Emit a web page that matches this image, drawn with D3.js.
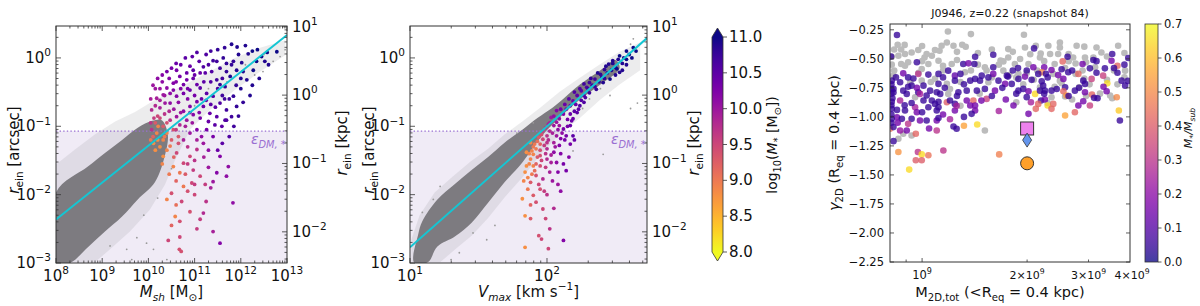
<!DOCTYPE html>
<html>
<head>
<meta charset="utf-8">
<script src="https://cdn.jsdelivr.net/npm/d3@7.9.0/dist/d3.min.js"></script>
<style>
  body { margin: 0; background: #fff; }
  svg { display: block; font-family: "DejaVu Sans", sans-serif; }
</style>
</head>
<body>
<svg id="fig" width="1200" height="306"></svg>
<script>
// ---- shared values (panels 1 & 2)
const kpcPerArcsec = 3.5;
const softeningArcsec = 0.085;
const mstarDomain = [8, 11];
const mstarTicks = [8.0, 8.5, 9.0, 9.5, 10.0, 10.5, 11.0];

// ---- panel 1: log10 Msh, log10 r_ein (arcsec)
const mshCore = [[8.00,-1.97],[8.69,-1.59],[9.06,-1.39],[9.43,-1.20],[9.77,-1.02],[10.08,-0.92],[10.29,-0.91],[10.42,-1.12],[10.36,-1.42],[10.14,-1.82],[9.77,-2.07],[9.43,-2.32],[9.06,-2.54],[8.69,-2.77],[8.30,-3.00],[8.00,-3.00]];
const mshHalo = [[8.00,-1.56],[8.41,-1.34],[8.84,-1.12],[9.28,-0.93],[9.71,-0.79],[10.03,-0.66],[10.36,-0.54],[10.79,-0.39],[11.33,-0.20],[11.87,0.00],[12.42,0.15],[12.96,0.26],[12.96,0.04],[12.42,-0.20],[11.87,-0.47],[11.33,-0.76],[10.90,-1.05],[10.58,-1.49],[10.36,-1.85],[10.03,-2.22],[9.60,-2.54],[9.17,-2.80],[8.84,-2.99],[8.00,-2.99]];
const mshStray = [[9.75,-2.63],[9.96,-2.71],[9.17,-2.75],[9.53,-2.80],[10.40,-2.95],[10.11,-2.80],[9.64,-2.95],[9.90,-2.30],[10.20,-2.05],[10.50,-1.62],[12.48,-0.20],[12.96,0.12],[12.50,0.05],[12.70,-0.05],[12.10,-0.10],[11.70,-0.35],[11.30,-0.45],[11.00,-0.70],[12.30,-0.25],[12.85,0.02]];
const mshFit = [[8, -2.365], [13, 0.336]];
// log10 Msh, log10 r_ein, log10 M*
const mshSubs = [
[11.92,0.16,10.9],[12.16,0.06,10.9],[12.36,0.12,11.0],[12.57,0.08,11.0],[12.78,0.09,11.0],[12.52,-0.05,10.9],[11.84,-0.05,10.8],[12.02,-0.07,10.9],[11.69,-0.08,10.8],[11.48,-0.05,10.7],
[11.30,-0.10,10.6],[11.37,-0.20,10.6],[11.48,-0.32,10.7],[11.55,-0.39,10.8],[11.66,-0.42,10.8],[11.77,-0.27,10.9],[11.91,-0.18,10.9],[12.13,-0.32,10.9],[11.12,-0.22,10.4],[10.97,-0.30,10.4],
[10.83,-0.32,10.3],[10.68,-0.27,10.3],[10.54,-0.37,10.2],[10.40,-0.44,10.1],[10.32,-0.54,10.0],[10.18,-0.59,9.9],[10.07,-0.76,9.8],[10.25,-0.73,9.9],[10.47,-0.66,10.1],[10.61,-0.56,10.2],
[10.76,-0.52,10.3],[10.90,-0.47,10.4],[11.12,-0.44,10.5],[11.26,-0.52,10.5],[11.40,-0.56,10.6],[11.55,-0.66,10.6],[11.69,-0.76,10.7],[11.66,-0.91,10.6],[11.48,-0.86,10.5],[11.33,-0.81,10.4],
[11.19,-0.71,10.4],[11.05,-0.64,10.3],[10.90,-0.71,10.2],[10.76,-0.78,10.1],[10.61,-0.86,10.0],[10.47,-0.91,9.7],[10.32,-1.00,9.3],[10.18,-1.10,8.9],[10.11,-1.25,8.8],[10.32,-1.20,8.9],
[10.47,-1.29,9.0],[10.61,-1.39,9.5],[10.76,-1.20,9.9],[10.90,-1.10,10.0],[11.05,-1.05,10.2],[11.26,-1.05,10.3],[11.40,-1.15,10.3],[11.19,-1.25,10.0],[11.05,-1.34,9.7],[10.90,-1.44,9.5],
[10.76,-1.54,9.5],[10.68,-1.68,9.0],[10.54,-1.59,8.9],[10.32,-1.44,8.8],[10.97,-1.64,9.6],[11.12,-1.73,9.5],[11.23,-1.85,9.6],[10.94,-1.83,9.5],[10.76,-1.88,9.0],[10.50,-1.98,9.4],
[10.40,-2.07,8.9],[10.72,-2.10,9.5],[10.58,-2.32,8.9],[10.68,-2.39,9.4],[11.12,-2.36,9.6],[11.19,-2.27,9.8],[11.40,-2.54,9.9],[11.55,-2.71,10.2],[10.43,-2.67,9.5],[10.68,-2.62,9.5],
[10.67,-2.80,9.4],[10.71,-2.83,9.4],[11.48,-1.68,10.2],[11.69,-1.73,10.1],[11.55,-1.44,10.2],[11.73,-1.59,10.1],[10.54,-0.47,10.2],[10.36,-0.66,10.0],[10.83,-0.22,10.4],[10.97,-0.18,10.5],
[11.19,-0.13,10.6],[11.05,-0.39,10.4],[10.76,-0.39,10.3],[10.47,-0.52,10.1],[11.84,-0.56,10.8],[11.91,-0.71,10.8],[11.80,-0.86,10.7],[11.69,-0.91,10.6],[11.59,-1.00,10.5],[11.44,-0.98,10.5],
[11.30,-0.93,10.4],[11.12,-0.88,10.3],[10.97,-0.83,10.2],[10.83,-0.91,10.0],[10.68,-0.98,9.8],[10.54,-1.05,9.4],[10.40,-1.10,8.9],[10.21,-1.00,8.9],[10.07,-1.05,9.7],[12.27,-0.18,11.0],
[12.34,-0.05,11.0],[11.69,-0.20,10.8],[11.62,0.00,10.8],[11.40,-0.04,10.7],[11.23,-0.22,10.5],[10.61,-0.18,10.3],[10.25,-0.45,10.0],[10.12,-0.88,9.6],[10.20,-0.85,9.5],[10.35,-0.82,9.7],
[10.55,-0.75,10.0],[10.65,-0.65,10.1],[10.85,-0.60,10.2],[11.00,-0.55,10.3],[11.15,-0.60,10.4],[11.35,-0.68,10.5],[11.60,-0.55,10.7],[11.75,-0.60,10.7],[12.00,-0.45,10.9],[12.25,-0.40,10.9],
[12.05,-0.20,10.9],[11.95,0.05,10.9],[11.55,-0.15,10.7],[11.10,-0.05,10.5],[10.90,-0.12,10.4],[10.45,-0.30,10.2],[10.30,-0.35,10.1],[10.15,-0.45,10.0],[10.95,-0.95,10.0],[11.15,-1.15,10.1],
[10.85,-1.30,9.7],[10.65,-1.15,9.3],[10.40,-1.35,8.9],[10.25,-1.30,8.8],[10.55,-1.45,9.2],[10.80,-1.70,9.3],[11.00,-1.50,9.7],[11.30,-1.35,10.1],[11.35,-1.90,9.9],[11.00,-2.00,9.5],
[10.60,-2.15,9.1],[11.40,-1.81,10.0],[11.83,-2.12,10.1],
[10.30,-0.25,10.2],[10.40,-0.20,10.3],[10.50,-0.15,10.3],[10.60,-0.08,10.4],[10.70,-0.10,10.4],[10.80,0.00,10.5],[10.95,0.02,10.5],[11.05,0.08,10.6],[11.25,0.05,10.6],[11.35,0.10,10.7],
[11.50,0.12,10.8],[11.65,0.15,10.8],[11.80,0.20,10.9],[12.10,0.18,10.9],[12.25,0.10,11.0],[12.45,0.02,11.0],[12.60,-0.10,10.9],[12.40,-0.30,10.9],[12.20,-0.55,10.9],[12.05,-0.65,10.8],
[11.95,-0.85,10.8],[11.85,-1.00,10.7],[11.75,-1.15,10.6],[11.60,-1.25,10.5],[11.50,-1.35,10.4],[11.20,-0.35,10.5],[11.00,-0.25,10.4],[10.85,-0.45,10.3],[10.70,-0.45,10.2],[10.60,-0.35,10.2],
[10.35,-0.55,10.0],[10.25,-0.62,9.9],[10.15,-0.70,9.8],[10.05,-0.60,9.9],[10.10,-0.40,10.0],[10.20,-0.30,10.1],[10.45,-0.78,9.8],[10.70,-0.80,10.0],[10.90,-0.80,10.1],[11.10,-0.80,10.2],
[11.25,-0.62,10.4],[11.45,-0.72,10.5],[11.50,-0.45,10.6],[11.35,-0.35,10.6],[11.65,-0.60,10.7],[11.90,-0.40,10.8],[12.00,-0.30,10.9],[11.80,-0.10,10.8],[11.60,-0.30,10.7],[10.80,-1.00,9.9],
[10.60,-1.05,9.6],[10.40,-0.95,9.4],[10.25,-0.88,9.5],[10.15,-0.95,9.3],[10.05,-1.20,9.0],[10.15,-1.35,8.8],[10.30,-1.55,8.9],[10.45,-1.70,9.0],[10.60,-1.80,9.2],[10.85,-1.55,9.6],
[11.05,-1.20,9.9],[11.20,-1.45,9.9],[11.30,-1.60,10.0],[10.90,-2.25,9.4],[11.05,-2.50,9.6],[11.25,-2.10,9.7],[10.50,-2.45,9.2],[10.85,-1.95,9.4],[11.00,-1.85,9.6],[10.65,-1.25,9.4],
[10.50,-1.20,9.3],[10.35,-1.15,9.0],[10.20,-1.20,8.8],[10.10,-1.15,9.2],[10.05,-0.95,9.7]
];

// ---- panel 2: log10 Vmax, log10 r_ein (arcsec)
const vmaxCore = [[1.03,-2.99],[1.06,-2.58],[1.09,-2.39],[1.20,-2.07],[1.33,-1.84],[1.45,-1.64],[1.57,-1.45],[1.69,-1.24],[1.82,-1.05],[1.93,-0.88],[2.04,-0.73],[2.13,-0.58],[2.24,-0.39],[2.39,-0.18],[2.50,-0.03],[2.53,-0.15],[2.39,-0.39],[2.24,-0.61],[2.09,-0.88],[1.95,-1.17],[1.82,-1.53],[1.69,-1.82],[1.57,-2.12],[1.45,-2.41],[1.33,-2.61],[1.20,-2.76],[1.13,-2.99]];
const vmaxHalo = [[1.01,-2.66],[1.07,-2.30],[1.18,-1.97],[1.31,-1.74],[1.44,-1.52],[1.57,-1.33],[1.69,-1.12],[1.82,-0.93],[1.95,-0.73],[2.09,-0.50],[2.24,-0.29],[2.39,-0.09],[2.53,0.09],[2.68,0.23],[2.68,-0.18],[2.53,-0.39],[2.39,-0.61],[2.24,-0.88],[2.09,-1.12],[1.95,-1.42],[1.82,-1.75],[1.69,-2.04],[1.57,-2.34],[1.45,-2.60],[1.33,-2.80],[1.22,-2.99],[1.01,-2.99]];
const vmaxStray = [[2.19,-1.36],[2.41,-1.41],[1.56,-2.66],[1.36,-2.85],[1.46,-2.56],[1.22,-1.88],[1.17,-2.07],[1.09,-2.26],[1.78,-1.10],[1.90,-0.95],[2.63,0.28],[2.61,0.20],[2.39,-0.45],[2.46,-0.55],[2.61,-0.74],[2.66,-0.66],[2.31,-0.60],[2.26,-0.74],[1.62,-2.45],[1.30,-2.95]];
const vmaxFit = [[1, -2.77], [2.73, 0.29]];
const vmaxSubs = [
[2.63,0.15,11.0],[2.58,0.10,11.0],[2.56,0.00,10.9],[2.52,-0.02,10.9],[2.48,-0.04,10.9],[2.50,-0.14,10.9],[2.45,-0.09,10.9],[2.53,-0.21,10.9],[2.42,-0.17,10.8],[2.39,-0.24,10.8],
[2.35,-0.31,10.7],[2.31,-0.36,10.7],[2.29,-0.43,10.6],[2.25,-0.48,10.5],[2.22,-0.55,10.5],[2.19,-0.63,10.4],[2.17,-0.70,10.3],[2.14,-0.75,10.3],[2.12,-0.82,10.2],[2.09,-0.89,10.1],
[2.07,-0.94,10.0],[2.05,-0.99,10.0],[2.02,-1.07,9.8],[2.00,-1.14,9.7],[1.97,-1.19,9.5],[1.95,-1.26,9.2],[1.92,-1.33,9.0],[1.90,-1.41,8.9],[1.88,-1.48,8.9],[1.85,-1.58,8.8],
[1.84,-1.67,8.8],[1.83,-1.80,8.9],[1.82,-2.06,8.8],[1.84,-2.31,8.8],[1.84,-2.77,8.8],[1.88,-2.35,9.3],[1.92,-2.11,9.4],[1.97,-2.21,9.5],[1.99,-2.35,9.5],[2.02,-2.50,9.7],
[1.94,-2.60,9.4],[1.96,-2.65,9.5],[2.01,-2.79,9.5],[2.12,-2.67,10.2],[2.08,-1.67,10.2],[2.14,-1.65,10.3],[2.02,-1.67,9.9],[1.97,-1.77,9.8],[1.92,-1.72,9.4],[1.88,-1.82,9.3],
[1.95,-1.92,9.4],[1.90,-2.01,9.3],[1.86,-1.92,9.0],[2.07,-1.53,10.1],[2.05,-1.38,10.1],[2.00,-1.48,9.8],[1.95,-1.58,9.4],[2.09,-1.28,10.2],[2.05,-1.24,9.9],[2.00,-1.33,9.8],
[1.95,-1.43,9.4],[2.14,-1.14,10.3],[2.12,-1.04,10.3],[2.07,-1.14,10.0],[2.17,-0.99,10.4],[2.19,-0.89,10.4],[2.17,-0.82,10.4],[2.22,-0.80,10.5],[2.24,-0.70,10.6],[2.27,-0.65,10.6],
[2.09,-0.99,10.0],[2.00,-1.24,9.7],[1.90,-1.58,8.9],[1.85,-1.38,8.8],[1.88,-1.24,8.9],[2.17,-1.26,10.3],[2.19,-1.14,10.5],[2.31,-0.51,10.7],[2.36,-0.46,10.8],[2.41,-0.36,10.9],
[2.46,-0.31,11.0],[2.51,-0.16,11.0],[2.58,-0.02,11.0],[2.65,0.10,11.0],[2.07,-0.77,10.2],[2.03,-0.87,10.0],[2.01,-0.97,9.9],[1.97,-1.07,9.6],[1.94,-1.16,9.3],[1.91,-1.26,9.0],
[1.89,-1.36,8.9],[2.03,-1.53,9.9],[1.99,-1.60,9.6],[2.60,0.05,11.0],[2.55,-0.08,10.9],[2.47,-0.18,10.9],[2.40,-0.28,10.8],[2.33,-0.40,10.7],[2.27,-0.55,10.5],[2.21,-0.68,10.4],
[2.15,-0.90,10.3],[2.11,-1.10,10.1],[2.10,-1.40,10.2],[2.12,-1.55,10.3],[2.04,-1.80,10.0],[1.98,-1.95,9.6],[2.20,-1.20,10.4],
[2.62,0.00,11.0],[2.58,-0.10,10.9],[2.55,-0.18,10.9],[2.50,-0.25,10.9],[2.44,-0.22,10.8],[2.42,-0.30,10.8],[2.38,-0.35,10.8],[2.35,-0.42,10.7],[2.30,-0.45,10.7],[2.28,-0.58,10.6],
[2.25,-0.62,10.6],[2.23,-0.75,10.5],[2.20,-0.78,10.5],[2.18,-0.92,10.4],[2.15,-1.00,10.3],[2.13,-1.20,10.3],[2.10,-1.18,10.2],[2.08,-1.05,10.1],[2.06,-1.30,10.0],[2.04,-1.10,9.9],
[2.03,-1.42,9.9],[2.01,-1.20,9.8],[1.99,-1.40,9.7],[1.98,-1.28,9.6],[1.96,-1.50,9.5],[1.95,-1.35,9.4],[1.93,-1.45,9.3],[1.92,-1.55,9.2],[1.91,-1.65,9.1],[1.90,-1.30,9.0],
[1.89,-1.70,9.0],[1.87,-1.55,8.9],[1.86,-1.75,8.9],[1.87,-1.40,8.9],[1.93,-1.22,9.1],[1.96,-1.12,9.4],[1.99,-1.02,9.7],[2.02,-0.95,9.9],[2.05,-0.85,10.1],[2.10,-0.75,10.3],
[2.13,-0.68,10.4],[2.16,-0.60,10.5],[2.20,-0.50,10.6],[2.24,-0.45,10.6],[2.27,-0.38,10.7],[2.32,-0.30,10.8],[2.37,-0.22,10.9],[2.43,-0.12,10.9],[2.48,-0.08,10.9],[2.53,0.03,11.0],
[2.16,-1.45,10.2],[2.08,-1.85,10.0],[2.00,-2.00,9.7],[1.94,-1.85,9.5],[1.88,-2.15,9.2],[2.05,-2.20,9.8],[2.10,-1.95,10.1]
];

// ---- panel 3: log10 M2D,tot, gamma_2D, M*/Msub
const titleP3 = 'J0946, z=0.22 (snapshot 84)';
const gammaTicks = [-2.25, -2.0, -1.75, -1.5, -1.25, -1.0, -0.75, -0.5, -0.25];
const fracTicks = [0, 0.1, 0.2, 0.3, 0.4, 0.5, 0.6, 0.7];
const darkSubs = [
[9.074,-0.265],[9.140,-0.287],[8.930,-0.379],[9.071,-0.359],[9.090,-0.387],[9.115,-0.379],[9.125,-0.396],[9.056,-0.387],[9.037,-0.424],[8.989,-0.424],
[8.970,-0.445],[8.951,-0.459],[8.932,-0.473],[9.013,-0.459],[9.007,-0.488],[9.028,-0.473],[9.233,-0.522],[9.225,-0.515],[8.913,-0.482],[9.018,-0.544],
[9.047,-0.516],[9.085,-0.544],[9.180,-0.573],[8.999,-0.587],[8.951,-0.559],[8.940,-0.545],[8.918,-0.645],[9.123,-0.616],[9.185,-0.600],[9.233,-0.602],
[8.966,-0.702],[8.999,-0.688],[9.025,-0.700],[9.037,-0.673],[9.071,-0.716],[9.110,-0.700],[9.190,-0.702],[9.075,-0.802],[9.080,-0.760],[9.165,-0.800],
[8.980,-0.831],[9.110,-0.905],[8.946,-1.145],[8.970,-1.160],[9.180,-1.117],[8.932,-1.189],[9.292,-0.293],[9.247,-0.416],[9.295,-0.402],[9.326,-0.387],
[9.362,-0.387],[9.395,-0.359],[9.395,-0.402],[9.443,-0.387],[9.465,-0.395],[9.500,-0.402],[9.514,-0.445],[9.562,-0.387],[9.247,-0.488],[9.281,-0.502],
[9.338,-0.488],[9.340,-0.455],[9.367,-0.459],[9.390,-0.459],[9.420,-0.459],[9.433,-0.488],[9.467,-0.488],[9.491,-0.488],[9.266,-0.544],[9.305,-0.544],
[9.380,-0.544],[9.440,-0.540],[9.496,-0.573],[9.276,-0.630],[9.300,-0.620],[9.376,-0.630],[9.440,-0.630],[9.465,-0.670],[9.395,-0.690],[9.338,-0.745],
[9.380,-0.740],[9.450,-0.745],[9.371,-0.831],[9.410,-0.825],[9.470,-0.820],[9.510,-0.800],[9.270,-0.874],[9.539,-0.816],[9.545,-0.840],[9.582,-0.602],
[9.560,-0.720],[9.320,-0.680],[9.290,-0.720],[9.250,-0.640],[8.913,-0.550],[8.920,-0.420],
[8.95,-0.38],[8.94,-0.42],[9.00,-0.39],[9.05,-0.43],[9.10,-0.44],[9.16,-0.45],[9.20,-0.42],[9.26,-0.44],[9.31,-0.46],[9.35,-0.52],
[9.42,-0.52],[9.47,-0.53],[9.53,-0.48],[9.58,-0.45],[9.55,-0.60],[9.46,-0.60],[9.41,-0.58],[9.33,-0.60],[9.27,-0.66],[9.22,-0.55],
[9.16,-0.55],[9.10,-0.51],[9.06,-0.56],[9.00,-0.52],[8.96,-0.53],[8.92,-0.60],[8.99,-0.62],[9.06,-0.60],[9.14,-0.60],[9.20,-0.66],
[9.40,-0.71],[9.48,-0.72],[9.53,-0.68],[9.58,-0.66],[9.36,-0.88],[9.43,-0.85]
];
const luminousSubs = [
[8.928,-0.295,0.05],[9.152,-0.482,0.05],[9.204,-0.465,0.05],[8.911,-0.480,0.05],[8.985,-0.530,0.05],[9.118,-0.544,0.05],[9.133,-0.539,0.15],[9.150,-0.544,0.05],[9.204,-0.573,0.05],[8.946,-0.625,0.15],
[8.989,-0.630,0.30],[9.018,-0.636,0.05],[9.047,-0.630,0.05],[9.075,-0.602,0.05],[9.094,-0.645,0.12],[9.171,-0.645,0.05],[9.204,-0.630,0.15],[9.246,-0.653,0.05],[8.913,-0.688,0.05],[8.937,-0.702,0.05],
[8.970,-0.731,0.05],[9.004,-0.731,0.05],[9.047,-0.716,0.05],[9.094,-0.688,0.05],[9.138,-0.688,0.05],[9.152,-0.673,0.05],[9.166,-0.688,0.05],[9.219,-0.688,0.05],[9.238,-0.716,0.15],[8.918,-0.759,0.05],
[8.918,-0.790,0.05],[8.946,-0.774,0.05],[8.956,-0.802,0.05],[8.989,-0.788,0.05],[8.994,-0.802,0.25],[9.023,-0.774,0.05],[9.013,-0.816,0.05],[9.042,-0.788,0.05],[9.052,-0.802,0.05],[9.104,-0.788,0.05],
[9.128,-0.774,0.05],[9.157,-0.774,0.05],[9.180,-0.759,0.05],[9.209,-0.774,0.15],[8.937,-0.859,0.25],[8.913,-0.870,0.05],[9.004,-0.859,0.05],[9.028,-0.859,0.05],[9.037,-0.888,0.05],[9.047,-0.870,0.05],
[9.071,-0.874,0.40],[9.080,-0.859,0.05],[9.094,-0.888,0.05],[9.128,-0.859,0.15],[9.147,-0.859,0.42],[9.152,-0.902,0.15],[9.185,-0.845,0.33],[8.913,-0.931,0.05],[8.928,-0.940,0.05],[8.951,-0.945,0.05],
[8.980,-0.917,0.25],[8.985,-0.960,0.15],[9.018,-0.917,0.05],[9.042,-0.945,0.05],[9.047,-0.917,0.05],[9.094,-0.945,0.15],[9.099,-0.905,0.25],[9.138,-0.902,0.15],[9.152,-0.945,0.15],[9.142,-0.974,0.05],
[8.928,-1.003,0.15],[8.942,-1.017,0.05],[8.970,-1.017,0.05],[8.994,-1.031,0.15],[9.013,-1.031,0.05],[9.042,-1.031,0.15],[9.047,-1.010,0.05],[8.913,-1.017,0.05],[8.908,-1.102,0.45],[8.918,-1.088,0.05],
[8.937,-1.117,0.22],[8.956,-1.117,0.15],[8.982,-1.145,0.42],[9.090,-1.083,0.05],[9.099,-1.102,0.05],[9.120,-1.077,0.55],[9.158,-1.066,0.65],[9.042,-1.117,0.30],[8.918,-1.209,0.05],[8.932,-1.303,0.52],
[8.988,-1.303,0.30],[8.999,-1.323,0.65],[9.018,-1.331,0.45],[9.061,-1.289,0.30],[8.982,-1.374,0.40],[8.999,-1.374,0.40],[8.963,-1.454,0.65],[9.221,-1.323,0.48],[9.321,-0.410,0.05],[9.417,-0.482,0.05],
[9.491,-0.510,0.05],[9.545,-0.459,0.05],[9.591,-0.493,0.05],[9.403,-0.522,0.42],[9.460,-0.544,0.15],[9.481,-0.582,0.05],[9.524,-0.582,0.05],[9.543,-0.516,0.15],[9.560,-0.559,0.42],[9.319,-0.573,0.15],
[9.350,-0.573,0.15],[9.371,-0.596,0.15],[9.400,-0.590,0.05],[9.419,-0.616,0.05],[9.343,-0.616,0.50],[9.333,-0.630,0.05],[9.355,-0.628,0.05],[9.243,-0.645,0.05],[9.276,-0.673,0.05],[9.295,-0.653,0.15],
[9.314,-0.681,0.05],[9.343,-0.694,0.05],[9.347,-0.731,0.05],[9.405,-0.673,0.15],[9.448,-0.630,0.42],[9.462,-0.688,0.05],[9.467,-0.716,0.05],[9.486,-0.673,0.33],[9.519,-0.645,0.33],[9.531,-0.711,0.65],
[9.572,-0.688,0.05],[9.582,-0.731,0.05],[9.590,-0.690,0.05],[9.257,-0.716,0.05],[9.276,-0.774,0.05],[9.290,-0.759,0.05],[9.305,-0.779,0.15],[9.324,-0.802,0.65],[9.338,-0.774,0.05],[9.352,-0.774,0.05],
[9.371,-0.774,0.05],[9.386,-0.760,0.05],[9.410,-0.745,0.05],[9.405,-0.779,0.42],[9.414,-0.816,0.52],[9.438,-0.774,0.05],[9.467,-0.788,0.15],[9.487,-0.808,0.42],[9.493,-0.836,0.05],[9.503,-0.840,0.05],
[9.529,-0.779,0.15],[9.558,-0.831,0.50],[9.341,-0.859,0.05],[9.352,-0.850,0.15],[9.333,-0.888,0.42],[9.312,-0.874,0.25],[9.262,-0.902,0.15],[9.326,-0.931,0.42],[9.360,-0.902,0.65],[9.376,-0.888,0.42],
[9.371,-0.931,0.42],[9.448,-0.902,0.15],[9.462,-0.865,0.15],[9.481,-0.902,0.33],[9.438,-0.960,0.42],[9.410,-0.988,0.55],[9.305,-0.974,0.15],[9.564,-0.945,0.62],[9.567,-1.031,0.05],
[8.912,-0.72,0.05],[8.912,-0.76,0.05],[8.912,-0.80,0.05],[8.915,-0.84,0.05],[8.912,-0.90,0.05],[8.912,-0.98,0.05],[8.912,-1.05,0.05],[8.925,-0.66,0.05],[8.960,-0.66,0.05],[8.975,-0.67,0.05],
[8.960,-0.74,0.05],[8.985,-0.75,0.15],[9.060,-0.66,0.05],[9.065,-0.75,0.05],[9.110,-0.63,0.05],[9.120,-0.72,0.05],[9.190,-0.66,0.05],[9.230,-0.75,0.05],[9.260,-0.60,0.05],[9.275,-0.58,0.05],
[9.300,-0.60,0.05],[9.36,-0.66,0.05],[9.39,-0.64,0.15],[9.43,-0.60,0.05],[9.50,-0.62,0.05],[9.56,-0.62,0.05],[9.45,-0.75,0.05],[9.52,-0.74,0.15],[9.42,-0.82,0.05],[9.35,-0.80,0.05],
[9.30,-0.83,0.05],[9.27,-0.80,0.05],[8.95,-0.90,0.05],[8.97,-0.88,0.05],[9.00,-0.96,0.05],[9.06,-0.98,0.15],[9.08,-1.02,0.25],[9.12,-1.00,0.05],[8.93,-1.05,0.15],[8.96,-1.06,0.30],
[9.02,-1.10,0.15],[9.10,-0.82,0.05],[9.17,-0.86,0.15],[9.20,-0.82,0.05],[9.24,-0.85,0.15],[9.22,-0.95,0.25],[9.55,-0.58,0.05],[9.58,-0.55,0.05],[9.50,-0.52,0.05]
];
// observed lens J0946: mass and slope estimates
const lensMass = 2e9;
const lensGamma = [-1.10, -1.20, -1.40];

// ================= drawing =================
const svg = d3.select('#fig');
svg.append('rect').attr('width', 1200).attr('height', 306).attr('fill', '#fff');

// text with italic / sub / sup runs
function rich(g, parts, attrs) {
  const t = g.append('text');
  Object.entries(attrs).forEach(([k, v]) => t.attr(k, v));
  const fs = parseFloat(attrs['font-size']);
  let shift = 0;
  parts.forEach(p => {
    const [s, mode] = typeof p === 'string' ? [p, ''] : p;
    const ts = t.append('tspan').text(s);
    let target = 0;
    if (mode.includes('sub')) target = 0.28;
    if (mode.includes('sup')) target = -0.45;
    const dy = (target - shift) * fs;
    if (dy) ts.attr('dy', dy.toFixed(2));
    shift = target;
    if (target !== 0) ts.attr('font-size', (fs * 0.7).toFixed(1));
    if (mode.includes('i')) ts.attr('font-style', 'italic');
  });
  return t;
}
const expLabel = e => ['10', [String(e).replace('-', '\u2212'), 'sup']];

function logTicks(lo, hi) {
  const major = [], minor = [];
  for (let e = Math.floor(Math.log10(lo)); e <= Math.ceil(Math.log10(hi)); e++) {
    for (let m = 1; m < 10; m++) {
      const v = m * 10 ** e;
      if (v < lo * 0.999 || v > hi * 1.001) continue;
      (m === 1 ? major : minor).push(v);
    }
  }
  return { major, minor };
}

function tickLines(g, scale, vals, axis, pos, len) {
  vals.forEach(v => {
    const p = scale(v);
    const l = g.append('line').attr('stroke', '#333').attr('stroke-width', 0.8);
    if (axis === 'x') l.attr('x1', p).attr('x2', p).attr('y1', pos).attr('y2', pos + len);
    else l.attr('y1', p).attr('y2', p).attr('x1', pos).attr('x2', pos + len);
  });
}

const mstarColor = v => d3.interpolatePlasma(1 - (Math.max(8, Math.min(11, v)) - 8) / 3);
const purple = '#9a6fd2';

function drawRelation(cfg) {
  const { x, y, yk, box, id } = cfg;
  const g = svg.append('g');
  const clip = svg.append('clipPath').attr('id', id);
  clip.append('rect').attr('x', box.l).attr('y', box.t).attr('width', box.r - box.l).attr('height', box.b - box.t);
  const body = g.append('g').attr('clip-path', `url(#${id})`);

  const ySoft = y(softeningArcsec);
  body.append('rect').attr('x', box.l).attr('y', ySoft).attr('width', box.r - box.l)
    .attr('height', box.b - ySoft).attr('fill', '#f0ebf6');

  const smooth = d3.line().x(d => x(10 ** d[0])).y(d => y(10 ** d[1])).curve(d3.curveCatmullRomClosed.alpha(0.5));
  const flat = d3.line().x(d => x(10 ** d[0])).y(d => y(10 ** d[1])).curve(d3.curveLinearClosed);
  body.append('path').attr('d', flat(cfg.halo)).attr('fill', '#8e8c92').attr('opacity', 0.17);
  body.append('path').attr('d', smooth(cfg.core)).attr('fill', '#7d7b80');

  body.selectAll('.stray').data(cfg.stray).join('circle')
    .attr('cx', d => x(10 ** d[0])).attr('cy', d => y(10 ** d[1])).attr('r', 0.9).attr('fill', '#9a9a9a');

  body.append('line').attr('x1', box.l).attr('x2', box.r).attr('y1', ySoft).attr('y2', ySoft)
    .attr('stroke', purple).attr('stroke-width', 1.4).attr('stroke-dasharray', '1.4,2.2');

  body.selectAll('.sub').data(cfg.subs).join('circle')
    .attr('cx', d => x(10 ** d[0])).attr('cy', d => y(10 ** d[1])).attr('r', 1.9)
    .attr('fill', d => mstarColor(d[2]));

  body.append('line')
    .attr('x1', x(10 ** cfg.fit[0][0])).attr('y1', y(10 ** cfg.fit[0][1]))
    .attr('x2', x(10 ** cfg.fit[1][0])).attr('y2', y(10 ** cfg.fit[1][1]))
    .attr('stroke', '#14c6d3').attr('stroke-width', 2);

  rich(g, [['\u03b5', 'i'], ['DM, *', 'i sub']], { x: box.r - 36, y: ySoft + 13, 'font-size': 14, fill: purple });

  g.append('rect').attr('x', box.l).attr('y', box.t).attr('width', box.r - box.l).attr('height', box.b - box.t)
    .attr('fill', 'none').attr('stroke', '#333').attr('stroke-width', 1);

  const xt = logTicks(...x.domain());
  tickLines(g, x, xt.major, 'x', box.b, -5); tickLines(g, x, xt.minor, 'x', box.b, -2.5);
  tickLines(g, x, xt.major, 'x', box.t, 5); tickLines(g, x, xt.minor, 'x', box.t, 2.5);
  const yt = logTicks(...y.domain());
  tickLines(g, y, yt.major, 'y', box.l, 5); tickLines(g, y, yt.minor, 'y', box.l, 2.5);
  const kt = logTicks(...yk.domain());
  tickLines(g, yk, kt.major, 'y', box.r, -5); tickLines(g, yk, kt.minor, 'y', box.r, -2.5);

  xt.major.forEach(v => rich(g, expLabel(Math.round(Math.log10(v))),
    { x: x(v), y: box.b + 18, 'font-size': 15, 'text-anchor': 'middle', fill: '#111' }));
  yt.major.forEach(v => rich(g, expLabel(Math.round(Math.log10(v))),
    { x: box.l - 5, y: y(v) + 5, 'font-size': 15, 'text-anchor': 'end', fill: '#111' }));
  kt.major.forEach(v => rich(g, expLabel(Math.round(Math.log10(v))),
    { x: box.r + 5, y: yk(v) + 5, 'font-size': 15, 'text-anchor': 'start', fill: '#111' }));

  rich(g, [['r', 'i'], ['ein', 'sub'], ' [arcsec]'],
    { transform: `translate(${cfg.yLabelX},150) rotate(-90)`, 'font-size': 15, 'text-anchor': 'middle', fill: '#111' });
  rich(g, [['r', 'i'], ['ein', 'sub'], ' [kpc]'],
    { transform: `translate(${cfg.kLabelX},143) rotate(-90)`, 'font-size': 15, 'text-anchor': 'middle', fill: '#111' });
  rich(g, cfg.xLabel, { x: (box.l + box.r) / 2, y: 297, 'font-size': 15, 'text-anchor': 'middle', fill: '#111' });
}

const yTop = 10 ** 0.467;
const box1 = { l: 56, r: 287, t: 26, b: 263 };
const box2 = { l: 410, r: 647, t: 26, b: 263 };
const yArc1 = d3.scaleLog([1e-3, yTop], [box1.b, box1.t]);
const yKpc1 = d3.scaleLog([1e-3 * kpcPerArcsec, yTop * kpcPerArcsec], [box1.b, box1.t]);

drawRelation({
  id: 'c1', box: box1, x: d3.scaleLog([1e8, 1e13], [box1.l, box1.r]), y: yArc1, yk: yKpc1,
  core: mshCore, halo: mshHalo, stray: mshStray, subs: mshSubs, fit: mshFit,
  yLabelX: 19, kLabelX: 347,
  xLabel: [['M', 'i'], ['sh', 'i sub'], ' [M', ['\u2299', 'sub'], ']']
});
drawRelation({
  id: 'c2', box: box2, x: d3.scaleLog([10, 10 ** 2.73], [box2.l, box2.r]), y: yArc1.copy(), yk: yKpc1.copy(),
  core: vmaxCore, halo: vmaxHalo, stray: vmaxStray, subs: vmaxSubs, fit: vmaxFit,
  yLabelX: 374, kLabelX: 699,
  xLabel: [['V', 'i'], ['max', 'i sub'], ' [km s', ['\u22121', 'sup'], ']']
});

// ---- colorbar for log10 M*
{
  const g = svg.append('g');
  const cb = { l: 712, r: 723, t: 37, b: 252 };
  const cy = d3.scaleLinear(mstarDomain, [cb.b, cb.t]);
  const grad = svg.append('defs').append('linearGradient').attr('id', 'gmstar')
    .attr('x1', 0).attr('x2', 0).attr('y1', 1).attr('y2', 0);
  d3.range(0, 1.0001, 0.05).forEach(t => grad.append('stop').attr('offset', t).attr('stop-color', d3.interpolatePlasma(1 - t)));
  g.append('rect').attr('x', cb.l).attr('y', cb.t).attr('width', cb.r - cb.l).attr('height', cb.b - cb.t).attr('fill', 'url(#gmstar)');
  g.append('path').attr('d', `M${cb.l},${cb.t}L${(cb.l + cb.r) / 2},${cb.t - 9}L${cb.r},${cb.t}Z`).attr('fill', d3.interpolatePlasma(0));
  g.append('path').attr('d', `M${cb.l},${cb.b}L${(cb.l + cb.r) / 2},${cb.b + 9}L${cb.r},${cb.b}Z`).attr('fill', d3.interpolatePlasma(1));
  g.append('path').attr('d', `M${cb.l},${cb.t}L${(cb.l + cb.r) / 2},${cb.t - 9}L${cb.r},${cb.t}L${cb.r},${cb.b}L${(cb.l + cb.r) / 2},${cb.b + 9}L${cb.l},${cb.b}Z`)
    .attr('fill', 'none').attr('stroke', '#333').attr('stroke-width', 0.8);
  tickLines(g, cy, mstarTicks, 'y', cb.r, 4);
  mstarTicks.forEach(v => g.append('text').attr('x', cb.r + 6).attr('y', cy(v) + 5)
    .attr('font-size', 15).attr('fill', '#111').text(v.toFixed(1)));
  rich(g, ['log', ['10', 'sub'], '(', ['M', 'i'], ['*', 'i sub'], ' [M', ['\u2299', 'sub'], '])'],
    { transform: 'translate(777,145) rotate(-90)', 'font-size': 14, 'text-anchor': 'middle', fill: '#111' });
}

// ---- panel 3
{
  const box = { l: 890, r: 1130, t: 24, b: 262 };
  const x = d3.scaleLog([10 ** 8.908, 10 ** 9.596], [box.l, box.r]);
  const y = d3.scaleLinear([-2.25, -0.2], [box.b, box.t]);
  const frac = d3.scaleLinear([0, 0.7], [0, 1]);
  const g = svg.append('g');
  svg.append('clipPath').attr('id', 'c3').append('rect')
    .attr('x', box.l).attr('y', box.t).attr('width', box.r - box.l).attr('height', box.b - box.t);
  const body = g.append('g').attr('clip-path', 'url(#c3)');

  body.selectAll('.dk').data(darkSubs).join('circle')
    .attr('cx', d => x(10 ** d[0])).attr('cy', d => y(d[1])).attr('r', 3.3).attr('fill', '#bcbcbc');
  body.selectAll('.lm').data(luminousSubs).join('circle')
    .attr('cx', d => x(10 ** d[0])).attr('cy', d => y(d[1])).attr('r', 3.3)
    .attr('fill', d => d3.interpolatePlasma(frac(d[2]))).attr('fill-opacity', 0.78);

  const lx = x(lensMass);
  body.append('rect').attr('x', lx - 6.5).attr('y', y(lensGamma[0]) - 6.5).attr('width', 13).attr('height', 13)
    .attr('fill', '#ee82ee').attr('stroke', '#333').attr('stroke-width', 1);
  const dy = y(lensGamma[1]);
  body.append('path').attr('d', `M${lx},${dy - 7}L${lx + 4.5},${dy}L${lx},${dy + 7}L${lx - 4.5},${dy}Z`)
    .attr('fill', '#6495ed').attr('stroke', '#333').attr('stroke-width', 0.8);
  body.append('circle').attr('cx', lx).attr('cy', y(lensGamma[2])).attr('r', 6.5)
    .attr('fill', '#ffa02a').attr('stroke', '#333').attr('stroke-width', 1);

  g.append('rect').attr('x', box.l).attr('y', box.t).attr('width', box.r - box.l).attr('height', box.b - box.t)
    .attr('fill', 'none').attr('stroke', '#333').attr('stroke-width', 1);

  tickLines(g, y, gammaTicks, 'y', box.l, 4);
  tickLines(g, y, gammaTicks, 'y', box.r, -4);
  gammaTicks.forEach(v => g.append('text').attr('x', box.l - 6).attr('y', y(v) + 4).attr('text-anchor', 'end')
    .attr('font-size', 11.5).attr('fill', '#111').text(d3.format('.2f')(v).replace('-', '\u2212')));
  const xt = logTicks(...x.domain());
  tickLines(g, x, xt.major, 'x', box.b, -4); tickLines(g, x, xt.major, 'x', box.t, 4);
  tickLines(g, x, xt.minor, 'x', box.b, -2.5); tickLines(g, x, xt.minor, 'x', box.t, 2.5);
  rich(g, ['10', ['9', 'sup']], { x: x(1e9), y: box.b + 17, 'font-size': 11.5, 'text-anchor': 'middle', fill: '#111' });
  [2, 3, 4].forEach(m => rich(g, [`${m}\u00d710`, ['9', 'sup']],
    { x: x(m * 1e9), y: box.b + 17, 'font-size': 11, 'text-anchor': 'middle', fill: '#111' }));

  g.append('text').attr('x', (box.l + box.r) / 2).attr('y', 17).attr('text-anchor', 'middle')
    .attr('font-size', 11).attr('fill', '#111').text(titleP3);
  rich(g, [['\u03b3', 'i'], ['2D', 'sub'], ' (R', ['eq', 'sub'], ' = 0.4 kpc)'],
    { transform: 'translate(839,143) rotate(-90)', 'font-size': 14.5, 'text-anchor': 'middle', fill: '#111' });
  rich(g, ['M', ['2D,tot', 'sub'], ' (<R', ['eq', 'sub'], ' = 0.4 kpc)'],
    { x: 1000, y: 297, 'font-size': 14.5, 'text-anchor': 'middle', fill: '#111' });

  // colorbar M*/Msub
  const cb = { l: 1145, r: 1158, t: 24, b: 262 };
  const cy = d3.scaleLinear([0, 0.7], [cb.b, cb.t]);
  const grad = svg.append('defs').append('linearGradient').attr('id', 'gfrac')
    .attr('x1', 0).attr('x2', 0).attr('y1', 1).attr('y2', 0);
  d3.range(0, 1.0001, 0.05).forEach(t => grad.append('stop').attr('offset', t)
    .attr('stop-color', d3.interpolatePlasma(t)).attr('stop-opacity', 0.78));
  g.append('rect').attr('x', cb.l).attr('y', cb.t).attr('width', cb.r - cb.l).attr('height', cb.b - cb.t)
    .attr('fill', 'url(#gfrac)').attr('stroke', '#333').attr('stroke-width', 0.8);
  tickLines(g, cy, fracTicks, 'y', cb.r, 3.5);
  fracTicks.forEach(v => g.append('text').attr('x', cb.r + 6).attr('y', cy(v) + 4)
    .attr('font-size', 11.5).attr('fill', '#111').text(v.toFixed(1)));
  rich(g, [['M', 'i'], ['*', 'i sub'], ['/M', 'i'], ['sub', 'i sub']],
    { transform: 'translate(1192,128) rotate(-90)', 'font-size': 11, 'text-anchor': 'middle', fill: '#111' });
}
</script>
</body>
</html>
